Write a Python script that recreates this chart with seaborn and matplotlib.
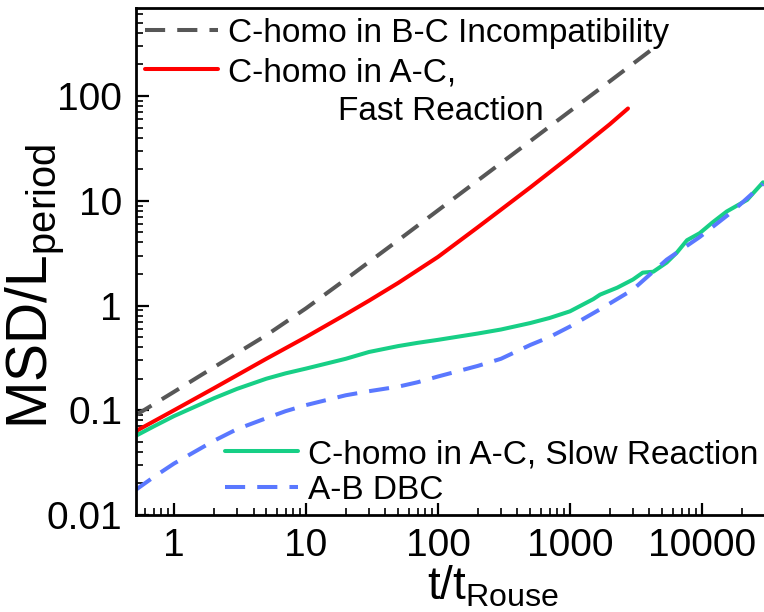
import numpy as np
import pandas as pd
import matplotlib
matplotlib.use("Agg")
import matplotlib.pyplot as plt
import matplotlib.ticker as mticker
import seaborn as sns

# ---- data ----
gray_x = [0.5, 1, 2, 5, 10, 20, 50, 100, 200, 500, 1000, 2000, 4800]
gray_y = [0.088, 0.15, 0.257, 0.52, 0.94, 1.78, 4.2, 8.1, 15.6, 37.1, 71.7, 138, 318]

red_x = [0.5, 1, 2, 5, 10, 20, 30, 50, 100, 200, 300, 500, 1000, 2000, 2750]
red_y = [0.062, 0.10, 0.162, 0.31, 0.50, 0.824, 1.112, 1.645, 2.91, 5.58, 8.22, 13.4, 26.5, 53.7, 76]

green_x = [0.5, 0.7, 1, 2, 3, 5, 7, 10, 20, 30, 50, 70, 100, 200, 300, 500, 700, 1000,
           1250, 1500, 1690, 2280, 3000, 3560, 4270, 5400, 6450, 7700, 9600, 12000,
           15400, 22000, 29000]
green_y = [0.056, 0.07, 0.088, 0.13, 0.16, 0.20, 0.225, 0.25, 0.31, 0.36, 0.41, 0.44, 0.47,
           0.54, 0.59, 0.68, 0.76, 0.88, 1.02, 1.15, 1.27, 1.48, 1.77, 2.06, 2.10, 2.57,
           3.2, 4.2, 4.9, 6.2, 7.9, 10.2, 15]

blue_x = [0.5, 0.7, 1, 2, 3, 5, 7, 10, 20, 30, 50, 70, 100, 200, 300, 500, 700, 1000,
          1690, 3000, 5400, 9600, 17000, 29000]
blue_y = [0.017, 0.023, 0.031, 0.051, 0.066, 0.084, 0.098, 0.112, 0.139, 0.152, 0.168,
          0.185, 0.21, 0.265, 0.31, 0.42, 0.50, 0.63, 0.92, 1.42, 2.74, 4.5, 7.9, 14.5]

labels = ["C-homo in B-C Incompatibility", "C-homo in A-C,",
          "C-homo in A-C, Slow Reaction", "A-B DBC"]
extra_label = "Fast Reaction"
x_ticks = [1, 10, 100, 1000, 10000]
x_ticklabels = ["1", "10", "100", "1000", "10000"]
y_ticks = [0.01, 0.1, 1, 10, 100]
y_ticklabels = ["0.01", "0.1", "1", "10", "100"]

sns.set_theme(style="ticks")
plt.rcParams['font.family'] = ['Liberation Sans', 'DejaVu Sans']
plt.rcParams['mathtext.fontset'] = 'custom'
plt.rcParams['mathtext.rm'] = 'Liberation Sans'
plt.rcParams['mathtext.it'] = 'Liberation Sans'
for k in ['text.color', 'axes.labelcolor', 'xtick.color', 'ytick.color', 'axes.edgecolor']:
    plt.rcParams[k] = 'black'

W, H = 764, 612
fig = plt.figure(figsize=(W / 100, H / 100), dpi=100)
ax = fig.add_axes([136 / W, 1 - 515 / H, (W - 136) / W, (515 - 8) / H])

lw = 2.9
c_gray, c_red, c_green, c_blue = "#575757", "#ff0000", "#17cf86", "#5a78ff"
dash = (0, (5, 3))

sns.lineplot(x=gray_x, y=gray_y, ax=ax, color=c_gray, lw=lw, ls=dash, label=labels[0])
sns.lineplot(x=red_x, y=red_y, ax=ax, color=c_red, lw=lw, label=labels[1])
sns.lineplot(x=green_x, y=green_y, ax=ax, color=c_green, lw=lw, label=labels[2])
sns.lineplot(x=blue_x, y=blue_y, ax=ax, color=c_blue, lw=lw, ls=dash, label=labels[3])

ax.set_xscale('log')
ax.set_yscale('log')
ax.set_xlim(0.515, 29500)
ax.set_ylim(0.01, 692)

ax.xaxis.set_major_locator(mticker.FixedLocator(x_ticks))
ax.xaxis.set_major_formatter(mticker.FixedFormatter(x_ticklabels))
ax.yaxis.set_major_locator(mticker.FixedLocator(y_ticks))
ax.yaxis.set_major_formatter(mticker.FixedFormatter(y_ticklabels))
ax.xaxis.set_minor_locator(mticker.LogLocator(base=10, subs=np.arange(2, 10)))
ax.yaxis.set_minor_locator(mticker.LogLocator(base=10, subs=np.arange(2, 10)))
ax.xaxis.set_minor_formatter(mticker.NullFormatter())
ax.yaxis.set_minor_formatter(mticker.NullFormatter())

ax.tick_params(which='major', direction='in', length=9, width=1.6, labelsize=28,
               top=False, right=False)
ax.tick_params(axis='y', which='major', pad=10)
ax.tick_params(axis='x', which='major', pad=9)
ax.tick_params(which='minor', direction='in', length=5, width=1.2, top=False, right=False)
for s in ['left', 'bottom', 'top']:
    ax.spines[s].set_linewidth(2.0)
ax.spines['right'].set_visible(False)

ax.set_xlabel(r'$\mathrm{t/t}_{\mathrm{Rouse}}$', fontsize=33)
ax.xaxis.set_label_coords((493 - 136) / (W - 136), -0.097)
ax.set_ylabel(r'$\mathrm{MSD/L}_{\mathrm{period}}$', fontsize=41)
ax.yaxis.set_label_coords(-(136 - 66) / (W - 136), 0.45)

handles, labs = ax.get_legend_handles_labels()
leg_kw = dict(frameon=False, fontsize=24, handlelength=2.2, handletextpad=0.28,
              borderpad=0, borderaxespad=0, bbox_transform=fig.transFigure)
leg1 = ax.legend(handles[:2], labs[:2], loc='upper left',
                 bbox_to_anchor=(145 / W, 1 - 18 / H), labelspacing=0.24, **leg_kw)
ax.add_artist(leg1)
ax.legend(handles[2:], labs[2:], loc='upper left',
          bbox_to_anchor=(225 / W, 1 - 439 / H), labelspacing=0.15, **leg_kw)
fig.text(338 / W, 1 - 111 / H, extra_label, fontsize=24, ha='left', va='center')

fig.savefig("out.png", dpi=100)
